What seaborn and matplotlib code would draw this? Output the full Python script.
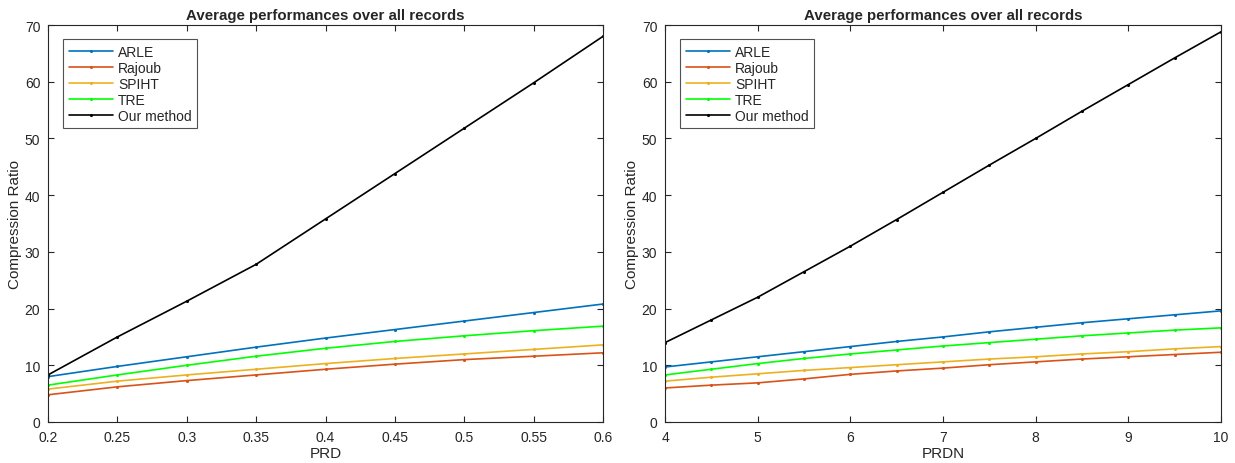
import numpy as np
import pandas as pd
import matplotlib
matplotlib.use("Agg")
import matplotlib.pyplot as plt
import seaborn as sns

methods = ["ARLE", "Rajoub", "SPIHT", "TRE", "Our method"]
colors = ["#0072BD", "#D95319", "#EDB120", "#00FF00", "#000000"]

prd = [0.2, 0.25, 0.3, 0.35, 0.4, 0.45, 0.5, 0.55, 0.6]
prd_arle = [8.0, 9.8, 11.5, 13.2, 14.8, 16.3, 17.8, 19.3, 20.8]
prd_rajoub = [4.8, 6.2, 7.3, 8.3, 9.3, 10.2, 11.0, 11.6, 12.2]
prd_spiht = [5.8, 7.2, 8.3, 9.3, 10.3, 11.2, 12.0, 12.8, 13.6]
prd_tre = [6.5, 8.3, 10.0, 11.6, 13.0, 14.2, 15.2, 16.1, 16.9]
prd_ours = [8.3, 15.0, 21.3, 27.8, 35.8, 43.8, 51.8, 59.8, 68.0]

prdn = [4, 4.5, 5, 5.5, 6, 6.5, 7, 7.5, 8, 8.5, 9, 9.5, 10]
prdn_arle = [9.7, 10.6, 11.5, 12.4, 13.3, 14.2, 15.0, 15.9, 16.7, 17.5, 18.2, 18.9, 19.6]
prdn_rajoub = [6.0, 6.5, 6.9, 7.6, 8.4, 9.0, 9.5, 10.1, 10.6, 11.1, 11.5, 11.9, 12.3]
prdn_spiht = [7.2, 7.9, 8.5, 9.1, 9.6, 10.1, 10.6, 11.1, 11.5, 12.0, 12.4, 12.9, 13.3]
prdn_tre = [8.3, 9.3, 10.3, 11.2, 12.0, 12.7, 13.4, 14.0, 14.6, 15.2, 15.7, 16.2, 16.6]
prdn_ours = [14.0, 18.0, 22.0, 26.5, 31.0, 35.7, 40.5, 45.3, 50.0, 54.8, 59.5, 64.2, 68.8]

sns.set_style("ticks")
plt.rcParams["font.family"] = ["Liberation Sans", "DejaVu Sans"]

W, H = 1235, 464
fig = plt.figure(figsize=(W / 100, H / 100), dpi=100)
axL = fig.add_axes([48 / W, 41 / H, 555 / W, 397 / H])
axR = fig.add_axes([665 / W, 41 / H, 556 / W, 397 / H])

def draw(ax, x, series, xlabel, xlim, xticks):
    rows = []
    for m, vals in zip(methods, series):
        for xv, yv in zip(x, vals):
            rows.append({"x": xv, "y": yv, "method": m})
    df = pd.DataFrame(rows)
    sns.lineplot(data=df, x="x", y="y", hue="method", hue_order=methods,
                 palette=colors, marker=".", markersize=4.5, markeredgewidth=0,
                 linewidth=1.2, ax=ax, sort=False, estimator=None)
    ax.set_xlim(*xlim)
    ax.set_ylim(0, 70)
    ax.set_xticks(xticks)
    ax.set_yticks(range(0, 71, 10))
    ax.set_xlabel(xlabel, fontsize=11, labelpad=1)
    ax.set_ylabel("Compression Ratio", fontsize=11, labelpad=2)
    ax.set_title("Average performances over all records", fontsize=10.8,
                 fontweight="bold", pad=4)
    ax.tick_params(direction="in", top=True, right=True, labelsize=10,
                   length=4, width=0.8, colors="#262626")
    ax.tick_params(axis="y", pad=5.5)
    ax.tick_params(axis="x", pad=6)
    for s in ax.spines.values():
        s.set_linewidth(0.8)
        s.set_color("#262626")
    leg = ax.legend(loc="upper left", bbox_to_anchor=(15 / 555, 1 - 14 / 397),
                    fontsize=10, frameon=True, fancybox=False,
                    edgecolor="#262626", handlelength=3.2, labelspacing=0.15,
                    borderpad=0.4, handletextpad=0.35, borderaxespad=0)
    leg.get_frame().set_linewidth(0.8)

draw(axL, prd, [prd_arle, prd_rajoub, prd_spiht, prd_tre, prd_ours], "PRD",
     (0.2, 0.6), [0.2, 0.25, 0.3, 0.35, 0.4, 0.45, 0.5, 0.55, 0.6])
axL.set_xticklabels(["0.2", "0.25", "0.3", "0.35", "0.4", "0.45", "0.5", "0.55", "0.6"])
draw(axR, prdn, [prdn_arle, prdn_rajoub, prdn_spiht, prdn_tre, prdn_ours], "PRDN",
     (4, 10), [4, 5, 6, 7, 8, 9, 10])

fig.savefig("out.png", dpi=100)
